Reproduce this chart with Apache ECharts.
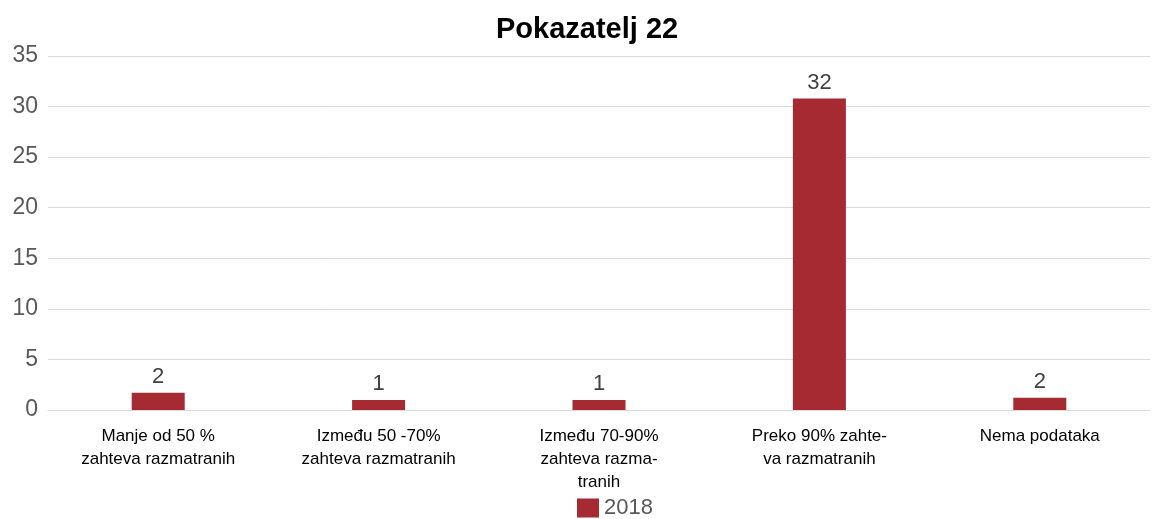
<!DOCTYPE html>
<html>
<head>
<meta charset="utf-8">
<title>Pokazatelj 22</title>
<script src="https://cdn.jsdelivr.net/npm/echarts@6/dist/echarts.min.js"></script>
<style>
  html, body { margin: 0; padding: 0; background: #fff; }
  #chart { width: 1157px; height: 519px; }
</style>
</head>
<body>
<div id="chart"></div>
<script>
// kategorije (prelomi redova kao na slici)
const categories = [
  'Manje od 50 %\nzahteva razmatranih',
  'Između 50 -70%\nzahteva razmatranih',
  'Između 70-90%\nzahteva razma-\ntranih',
  'Preko 90% zahte-\nva razmatranih',
  'Nema podataka'
];
// visine stubova kako su nacrtane
const barHeights2018 = [1.7, 1.0, 1.0, 30.8, 1.2];
// natpisi iznad stubova
const labels2018 = [2, 1, 1, 32, 2];
const yTicks = { min: 0, max: 35, interval: 5 };

const chart = echarts.init(document.getElementById('chart'));
const font = '"Liberation Sans", Arial, sans-serif';

const option = {
  animation: false,
  title: {
    text: 'Pokazatelj 22',
    left: 496,
    top: 15,
    padding: 0,
    textStyle: { fontFamily: font, fontSize: 29, fontWeight: 'bold', color: '#000' }
  },
  legend: {
    data: ['2018'],
    left: 577,
    top: 497,
    padding: 0,
    itemWidth: 22,
    itemHeight: 19,
    icon: 'rect',
    textStyle: { fontFamily: font, fontSize: 22, lineHeight: 22, color: '#595959' }
  },
  grid: { left: 48, right: 7, top: 56, bottom: 109, containLabel: false },
  xAxis: {
    type: 'category',
    data: categories,
    axisLine: { show: true, lineStyle: { color: '#d9d9d9', width: 1 } },
    axisTick: { show: false },
    axisLabel: {
      interval: 0,
      margin: 15,
      fontFamily: font,
      fontSize: 17,
      lineHeight: 23,
      color: '#000'
    }
  },
  yAxis: {
    type: 'value',
    min: yTicks.min,
    max: yTicks.max,
    interval: yTicks.interval,
    axisLine: { show: false },
    axisTick: { show: false },
    splitLine: { lineStyle: { color: '#d9d9d9', width: 1 } },
    axisLabel: { fontFamily: font, fontSize: 23, color: '#595959', margin: 10 }
  },
  series: [{
    name: '2018',
    type: 'bar',
    data: barHeights2018,
    barWidth: 53,
    itemStyle: { color: '#A52A32' },
    label: {
      show: true,
      position: 'top',
      distance: 5,
      fontFamily: font,
      fontSize: 22,
      color: '#404040',
      formatter: p => labels2018[p.dataIndex]
    }
  }]
};

chart.setOption(option);
</script>
</body>
</html>
